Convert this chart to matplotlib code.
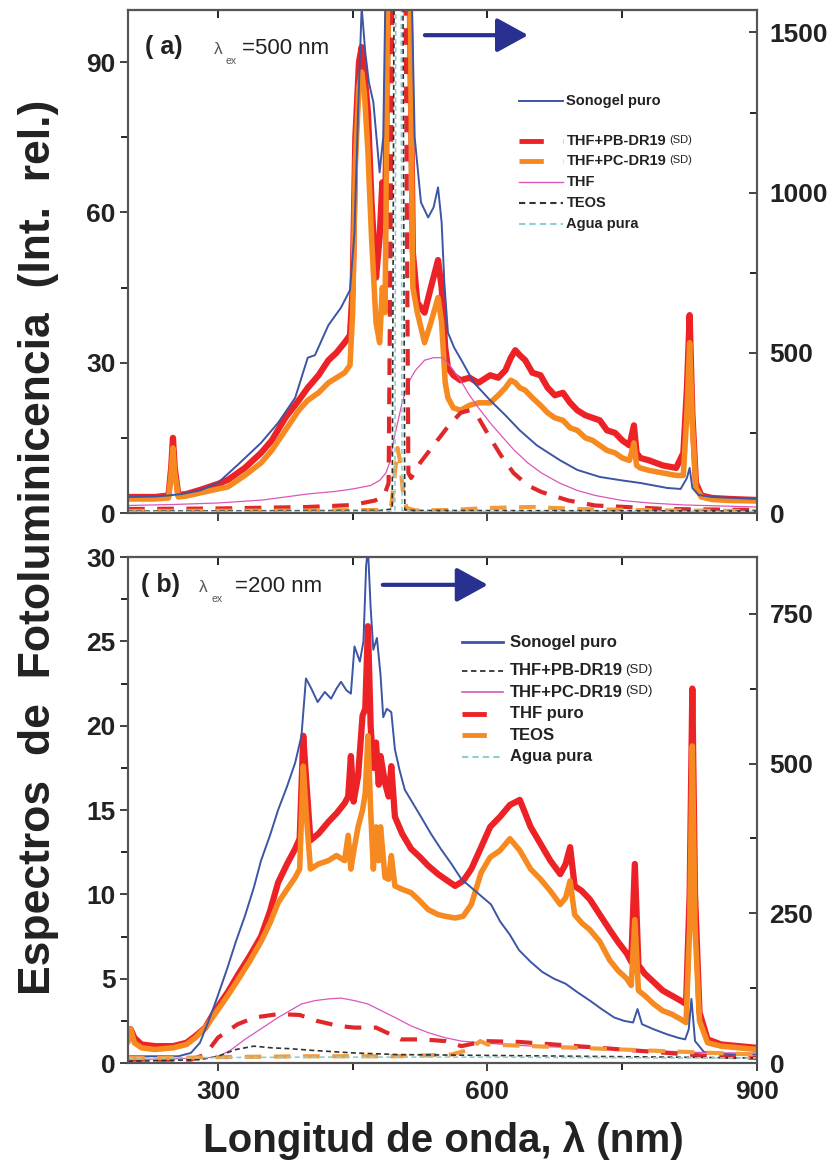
import matplotlib.pyplot as plt
from matplotlib.lines import Line2D
from matplotlib.ticker import MultipleLocator

plt.rcParams['font.family'] = ['Liberation Sans', 'DejaVu Sans']

# ------- DATOS: panel (a), excitacion a 500 nm -------

wl_a_muestras = [200, 230, 245, 248, 250, 252, 256, 265, 280, 300,
                 311, 330, 348, 360, 375, 390, 400, 412, 423, 432,
                 441, 447, 450, 453, 457, 460, 463, 467, 471, 476,
                 480, 483, 486, 490, 502, 513, 517, 522, 530, 537,
                 545, 549, 553, 556, 562, 570, 580, 590, 603, 612,
                 620, 626, 631, 636, 642, 650, 659, 667, 675, 684,
                 692, 700, 709, 717, 725, 733, 742, 750, 758, 763,
                 766, 770, 780, 795, 810, 818, 822, 825, 828, 832,
                 838, 850, 870, 900]
int_a_roja = [3.2, 3.2, 3.5, 9, 15, 9, 3.6, 3.8, 4.6, 5.8,
              6.6, 9.0, 12, 14.5, 19, 22.5, 25, 27.5, 30.5, 32,
              34, 35.5, 45, 75, 90, 93, 88, 80, 62, 47,
              55, 66, 58, 110, 2000, 110, 52, 42, 40, 45,
              50.5, 45, 33, 29, 27.5, 26.5, 27, 26, 27.5, 27,
              28.5, 31, 32.5, 31.5, 30.5, 28, 27.5, 25, 23.5, 24,
              22, 20.5, 19.5, 19, 18.5, 16.5, 16, 14.5, 13.5, 17.5,
              12, 11, 10.5, 9.5, 9, 12, 25, 39.5, 20, 6,
              3.5, 3.0, 2.8, 2.6]
int_a_naranja = [2.8, 2.8, 3.0, 8, 13, 8, 3.2, 3.4, 4.0, 4.8,
                 5.2, 7.5, 10, 12.5, 16.5, 20.5, 22.5, 24, 26, 27,
                 28, 29.5, 40, 70, 85, 88, 84, 72, 55, 38,
                 34, 45, 40, 110, 2000, 110, 45, 40, 34, 38,
                 43, 38, 26, 23, 21, 20.5, 21.5, 22, 22, 23.5,
                 25, 26.5, 26, 25, 24.5, 23, 21.5, 20, 19, 18.5,
                 17, 16.5, 15, 14.5, 13.5, 12.5, 12, 11, 10.5, 14,
                 9.5, 9, 8.5, 8, 7.5, 7.5, 20, 34, 18, 5,
                 3.2, 2.7, 2.5, 2.4]

wl_a_sonogel = [200, 230, 245, 260, 280, 300, 322, 348, 367, 386,
                400, 408, 423, 437, 447, 452, 456, 460, 464, 468,
                473, 480, 484, 487, 492, 502, 512, 515, 519, 526,
                534, 540, 545, 549, 552, 556, 563, 571, 585, 603,
                620, 636, 655, 681, 700, 725, 750, 770, 800, 815,
                822, 825, 828, 835, 850, 875, 900]
int_a_sonogel = [3.2, 3.3, 3.5, 3.8, 4.5, 6.0, 9.6, 14, 18, 23,
                 31, 31.5, 37.5, 41, 44.5, 56, 80, 101, 92, 86,
                 82, 68, 75, 110, 600, 2000, 600, 110, 75, 62,
                 59, 61, 65, 58, 46, 36, 33, 30.5, 26, 22.5,
                 19.5, 16.5, 13.5, 10.5, 8.6, 7.2, 6.5, 6.0, 5.0, 4.8,
                 7, 9, 5, 3.6, 3.2, 3.0, 2.8]

wl_a_thf = [200, 250, 300, 350, 400, 430, 450, 470, 480, 487,
            491, 495, 500, 505, 510, 515, 520, 530, 540, 550,
            560, 570, 580, 590, 603, 615, 630, 645, 660, 680,
            700, 720, 750, 780, 820, 860, 900]
int_a_thf = [1.5, 1.7, 2.0, 2.6, 3.8, 4.3, 4.8, 5.5, 6.5, 8,
             10, 14, 18, 22, 25, 27, 28.5, 30.5, 31, 31,
             29, 26.5, 23.5, 21, 18, 15.5, 12.5, 10, 8, 6,
             4.5, 3.5, 2.5, 2, 1.6, 1.4, 1.2]

wl_a_pb = [200, 300, 400, 450, 475, 485, 490, 494, 502, 509,
           512, 515, 525, 540, 555, 570, 580, 590, 603, 615,
           629, 645, 660, 690, 720, 800, 900]
int_a_pb = [0.8, 0.9, 1.2, 1.6, 2.5, 3.5, 6, 100, 2000, 100,
            8, 7, 10, 13.5, 17, 20, 20.5, 19, 15, 11.5,
            8, 5.5, 4.2, 2.5, 1.5, 0.8, 0.6]

wl_a_pc = [200, 400, 480, 493, 497, 500, 503, 506, 510, 520,
           560, 600, 650, 700, 800, 900]
int_a_pc = [0.4, 0.5, 0.6, 1.5, 8, 13, 10, 4, 1, 0.5,
            0.6, 1.0, 1.2, 0.8, 0.5, 0.4]

wl_a_teos = [200, 480, 494, 496, 500, 506, 508, 520, 900]
int_a_teos = [0.4, 0.5, 0.8, 100, 2000, 100, 0.6, 0.5, 0.4]

wl_a_agua = [200, 490, 497, 498, 501, 504, 505, 515, 900]
int_a_agua = [0.3, 0.3, 0.5, 100, 2000, 100, 0.5, 0.3, 0.3]

# ------- DATOS: panel (b), excitacion a 200 nm -------

wl_b_muestras = [200, 203, 207, 215, 230, 250, 265, 275, 286, 298,
                 311, 322, 335, 348, 358, 367, 377, 386, 391, 395,
                 398, 403, 412, 423, 432, 441, 445, 448, 451, 456,
                 461, 464, 467, 470, 473, 476, 479, 481, 486, 490,
                 493, 497, 505, 515, 525, 534, 545, 553, 564, 573,
                 582, 593, 603, 614, 625, 636, 648, 659, 670, 681,
                 687, 692, 697, 705, 714, 725, 736, 745, 755, 760,
                 764, 768, 775, 785, 795, 805, 815, 821, 825, 828,
                 831, 836, 845, 860, 880, 900]
int_b_roja = [1.6, 2.0, 1.5, 1.1, 1.0, 1.0, 1.2, 1.6, 2.1, 3.2,
              4.2, 5.2, 6.3, 7.5, 9.0, 10.7, 11.8, 12.7, 13.3, 19.4,
              17, 13.2, 13.6, 14.3, 14.8, 15.4, 15.8, 18.2, 15.5, 17,
              20.6, 21, 25.9, 20, 17.5, 19, 16.5, 18.2, 16.6, 15.8,
              17.6, 14.6, 13.6, 12.7, 12.2, 11.7, 11.2, 10.9, 10.5, 10.8,
              11.5, 12.8, 14.0, 14.6, 15.3, 15.6, 14.0, 13.0, 12.0, 11.2,
              11.8, 12.8, 10.5, 10.2, 9.7, 8.8, 7.9, 7.2, 6.5, 6.0,
              11.8, 5.8, 5.3, 4.8, 4.3, 4.0, 3.7, 3.5, 10, 22.2,
              10, 3, 1.4, 1.1, 1.0, 0.9]
int_b_naranja = [1.3, 2.0, 1.2, 0.9, 0.8, 0.9, 1.1, 1.5, 2.1, 3.0,
                 4.0, 4.9, 6.0, 7.2, 8.3, 9.5, 10.3, 11.0, 11.5, 17.6,
                 15, 11.5, 11.8, 12.0, 12.3, 12.0, 13.5, 11.5, 12.5, 14,
                 15, 16, 19.4, 15, 11.5, 14, 12, 14, 11, 10.9,
                 12.3, 10.5, 10.3, 10.1, 9.6, 9.1, 8.8, 8.7, 8.6, 8.7,
                 9.4, 11.3, 12.2, 12.6, 13.3, 12.6, 11.5, 10.9, 10.2, 9.4,
                 9.8, 10.8, 8.8, 8.3, 7.9, 7.2, 6.1, 5.5, 5.0, 4.6,
                 8.5, 4.3, 4.0, 3.5, 3.1, 2.9, 2.6, 2.4, 8, 18.8,
                 8, 2.5, 1.2, 1.0, 0.9, 0.8]

wl_b_sonogel = [200, 230, 256, 270, 280, 289, 300, 311, 320, 330,
                340, 348, 358, 367, 377, 386, 393, 398, 404, 411,
                419, 426, 432, 437, 443, 448, 452, 458, 462, 465,
                467, 470, 473, 477, 481, 484, 488, 493, 497, 502,
                508, 517, 526, 537, 548, 560, 571, 582, 593, 604,
                614, 625, 635, 648, 661, 674, 687, 700, 714, 727,
                741, 752, 762, 767, 772, 785, 800, 812, 820, 824,
                827, 831, 841, 860, 880, 900]
int_b_sonogel = [0.4, 0.4, 0.4, 0.6, 1.2, 2.4, 4.0, 5.7, 7.2, 8.7,
                 10.4, 12, 13.5, 15, 16.4, 17.8, 19.4, 22.8, 22.2, 21.4,
                 22, 21.6, 22.2, 22.6, 22.1, 21.9, 24.7, 23.8, 25, 29.5,
                 30.5, 27, 24.5, 25.2, 23, 20.5, 21, 20.8, 18.6, 17.4,
                 16.2, 15.4, 14.6, 13.6, 12.7, 11.8, 10.9, 10.4, 9.9, 9.4,
                 8.4, 7.6, 6.7, 6.0, 5.4, 5.0, 4.7, 4.2, 3.7, 3.2,
                 2.7, 2.5, 2.4, 3.2, 2.3, 2.0, 1.7, 1.5, 1.4, 2.0,
                 3.8, 1.3, 0.65, 0.55, 0.5, 0.5]

wl_b_pc = [200, 250, 280, 300, 315, 330, 350, 367, 380, 393,
           408, 423, 437, 452, 467, 482, 497, 515, 534, 553,
           571, 593, 620, 650, 700, 750, 800, 850, 900]
int_b_pc = [0.2, 0.25, 0.3, 0.35, 0.8, 1.4, 2.1, 2.7, 3.1, 3.5,
            3.7, 3.8, 3.85, 3.7, 3.5, 3.1, 2.7, 2.2, 1.8, 1.5,
            1.3, 1.2, 1.1, 1.0, 0.9, 0.8, 0.7, 0.6, 0.6]

wl_b_thf = [200, 270, 286, 300, 322, 341, 367, 391, 410, 434,
            452, 476, 504, 528, 553, 571, 597, 635, 700, 750,
            800, 850, 900]
int_b_thf = [0.2, 0.2, 0.5, 1.5, 2.3, 2.7, 2.9, 2.85, 2.5, 2.2,
             2.1, 2.1, 1.4, 1.4, 1.3, 1.0, 1.3, 1.25, 1.0, 0.8,
             0.6, 0.4, 0.3]

wl_b_teos = [200, 250, 300, 400, 500, 560, 580, 592, 600, 650,
             700, 750, 800, 850, 900]
int_b_teos = [0.3, 0.3, 0.35, 0.4, 0.4, 0.5, 0.8, 1.3, 1.1, 1.0,
              0.9, 0.8, 0.7, 0.6, 0.5]

wl_b_pb = [200, 280, 300, 320, 340, 360, 380, 405, 450, 500,
           600, 700, 800, 900]
int_b_pb = [0.1, 0.2, 0.4, 0.8, 1.0, 0.9, 0.85, 0.75, 0.6, 0.5,
            0.45, 0.4, 0.35, 0.3]

wl_b_agua = [200, 400, 600, 800, 900]
int_b_agua = [0.3, 0.35, 0.35, 0.3, 0.3]

# ------- ESTILOS -------

AZUL = '#3c55a5'
ROJO = '#ec2227'
NARANJA = '#f6891f'
ROSA = '#d957b8'
NEGRO = '#333333'
CIAN = '#8fcfd0'
FLECHA = '#28318f'

est_sonogel = dict(color=AZUL, lw=1.4)
est_roja = dict(color=ROJO, lw=4.5)
est_naranja = dict(color=NARANJA, lw=4.0)
est_rosa = dict(color=ROSA, lw=0.9)
est_rojo_disc = dict(color='#e0282b', lw=3.0, dashes=(4, 3))
est_naranja_disc = dict(color='#f39a3b', lw=3.0, dashes=(4, 3))
est_negro_disc = dict(color=NEGRO, lw=1.2, dashes=(3, 2))
est_cian_disc = dict(color=CIAN, lw=1.2, dashes=(3, 2))

TXT = '#222222'
TICK_FS = 19


def formato_ejes(ax, axd, ylim, ymaj, ymin, ylim_d, ymaj_d, ymin_d, etiquetas_x):
    ax.set_xlim(200, 900)
    ax.set_ylim(*ylim)
    ax.xaxis.set_major_locator(MultipleLocator(300))
    ax.xaxis.set_minor_locator(MultipleLocator(150))
    ax.yaxis.set_major_locator(MultipleLocator(ymaj))
    ax.yaxis.set_minor_locator(MultipleLocator(ymin))
    ax.tick_params(axis='both', which='major', direction='out', length=6, width=1.2,
                   labelsize=TICK_FS, colors=TXT, pad=3)
    ax.tick_params(axis='both', which='minor', direction='out', length=5, width=1.2)
    ax.tick_params(axis='x', labelbottom=etiquetas_x, pad=6)
    # marcas hacia dentro en el borde superior
    sup = ax.secondary_xaxis('top')
    sup.xaxis.set_major_locator(MultipleLocator(300))
    sup.xaxis.set_minor_locator(MultipleLocator(150))
    sup.tick_params(which='both', direction='in', length=6, width=1.2, labeltop=False)
    axd.set_ylim(*ylim_d)
    axd.yaxis.set_major_locator(MultipleLocator(ymaj_d))
    axd.yaxis.set_minor_locator(MultipleLocator(ymin_d))
    axd.tick_params(axis='y', which='major', direction='in', length=6, width=1.2,
                    labelsize=TICK_FS, colors=TXT, pad=9)
    axd.tick_params(axis='y', which='minor', direction='in', length=5, width=1.2)
    for a in (ax, axd, sup):
        for s in a.spines.values():
            s.set_color('#555555')
            s.set_linewidth(1.5)
    for lab in ax.get_xticklabels() + ax.get_yticklabels() + axd.get_yticklabels():
        lab.set_fontweight('bold')


def leyenda(ax, entradas, ys, x0, x1, xt, fs):
    for (texto, sufijo, est), y in zip(entradas, ys):
        ax.add_line(Line2D([x0, x1], [y, y], transform=ax.transAxes, **est))
        t = ax.text(xt, y, texto, transform=ax.transAxes, va='center', ha='left',
                    fontsize=fs, fontweight='bold', color=TXT)
        if sufijo:
            ax.annotate(sufijo, xy=(1, 0.55), xycoords=t, xytext=(2, 0),
                        textcoords='offset points', va='center', ha='left',
                        fontsize=fs - 2.5, color=TXT)


def rotulo(ax, letra, x_letra, y_base, x_lam, exc, y_sub, x_num):
    ax.text(x_letra, y_base, '( ' + letra + ')', transform=ax.transAxes,
            fontsize=18, fontweight='bold', color=TXT, va='baseline')
    ax.text(x_lam, y_base, 'λ', transform=ax.transAxes, fontsize=12.5,
            color='#555555', va='baseline')
    ax.text(x_lam + 0.019, y_sub, 'ex', transform=ax.transAxes, fontsize=7.5,
            color='#555555', va='baseline')
    ax.text(x_num, y_base, '=' + exc + ' nm', transform=ax.transAxes, fontsize=16,
            color=TXT, va='baseline')


def flecha(ax, x0, x1, y):
    ax.annotate('', xy=(x1, y), xytext=(x0, y), xycoords='axes fraction',
                arrowprops=dict(arrowstyle='-|>,head_length=0.4,head_width=0.22',
                                color=FLECHA, lw=3, mutation_scale=48,
                                shrinkA=0, shrinkB=0))


fig = plt.figure(figsize=(8.33, 11.67), dpi=100)
ax_a = fig.add_axes([0.1537, 0.5604, 0.7551, 0.4310])
ax_b = fig.add_axes([0.1537, 0.0891, 0.7551, 0.4336])

# ------- PANEL (a) -------
ax_a.plot(wl_a_muestras, int_a_roja, zorder=2, **est_roja)
ax_a.plot(wl_a_muestras, int_a_naranja, zorder=3, **est_naranja)
ax_a.plot(wl_a_sonogel, int_a_sonogel, zorder=4, **est_sonogel)
ax_a.plot(wl_a_thf, int_a_thf, zorder=5, **est_rosa)
ax_a.plot(wl_a_pb, int_a_pb, zorder=5, **est_rojo_disc)
ax_a.plot(wl_a_pc, int_a_pc, zorder=5, **est_naranja_disc)
ax_a.plot(wl_a_teos, int_a_teos, zorder=6, **est_negro_disc)
ax_a.plot(wl_a_agua, int_a_agua, zorder=6, **est_cian_disc)

ax_a_der = ax_a.twinx()
formato_ejes(ax_a, ax_a_der, (0, 100.4), 30, 15, (0, 1570), 500, 250, False)

leyenda(ax_a, [('Sonogel puro', '', est_sonogel),
               ('THF+PB-DR19', '(SD)', dict(color=ROJO, lw=3.5, dashes=(5, 4))),
               ('THF+PC-DR19', '(SD)', dict(color=NARANJA, lw=3.5, dashes=(5, 4))),
               ('THF', '', dict(color=ROSA, lw=1.0)),
               ('TEOS', '', dict(color=NEGRO, lw=1.5, dashes=(3, 2))),
               ('Agua pura', '', dict(color=CIAN, lw=1.5, dashes=(3, 2)))],
        [0.819, 0.740, 0.700, 0.658, 0.616, 0.575], 0.622, 0.692, 0.697, 10.5)
rotulo(ax_a, 'a', 0.027, 0.912, 0.136, '500', 0.893, 0.181)
flecha(ax_a, 0.472, 0.636, 0.950)

# ------- PANEL (b) -------
ax_b.plot(wl_b_muestras, int_b_roja, zorder=2, **est_roja)
ax_b.plot(wl_b_muestras, int_b_naranja, zorder=3, **est_naranja)
ax_b.plot(wl_b_sonogel, int_b_sonogel, zorder=4, **est_sonogel)
ax_b.plot(wl_b_pc, int_b_pc, zorder=5, **est_rosa)
ax_b.plot(wl_b_thf, int_b_thf, zorder=5, **est_rojo_disc)
ax_b.plot(wl_b_teos, int_b_teos, zorder=5, **est_naranja_disc)
ax_b.plot(wl_b_pb, int_b_pb, zorder=6, **est_negro_disc)
ax_b.plot(wl_b_agua, int_b_agua, zorder=6, **est_cian_disc)

ax_b_der = ax_b.twinx()
formato_ejes(ax_b, ax_b_der, (0, 30), 5, 2.5, (0, 845), 250, 125, True)

leyenda(ax_b, [('Sonogel puro', '', dict(color=AZUL, lw=2.0)),
               ('THF+PB-DR19', '(SD)', dict(color=NEGRO, lw=1.3, dashes=(3, 2))),
               ('THF+PC-DR19', '(SD)', dict(color=ROSA, lw=1.2)),
               ('THF puro', '', dict(color=ROJO, lw=3.5, dashes=(5, 4))),
               ('TEOS', '', dict(color=NARANJA, lw=3.5, dashes=(5, 4))),
               ('Agua pura', '', dict(color=CIAN, lw=1.5, dashes=(3, 2)))],
        [0.832, 0.775, 0.733, 0.690, 0.648, 0.605], 0.531, 0.596, 0.607, 12)
rotulo(ax_b, 'b', 0.020, 0.930, 0.113, '200', 0.912, 0.170)
flecha(ax_b, 0.405, 0.572, 0.945)

# ------- TITULOS DE EJES -------
fig.text(0.046, 0.531, 'Espectros  de  Fotoluminicencia  (Int.  rel.)', rotation=90,
         ha='center', va='center', fontsize=32, fontweight='bold', color=TXT)
fig.text(0.532, 0.023, 'Longitud de onda, λ (nm)', ha='center', va='center',
         fontsize=29, fontweight='bold', color=TXT)

fig.savefig('out.png', dpi=100, facecolor='white')
